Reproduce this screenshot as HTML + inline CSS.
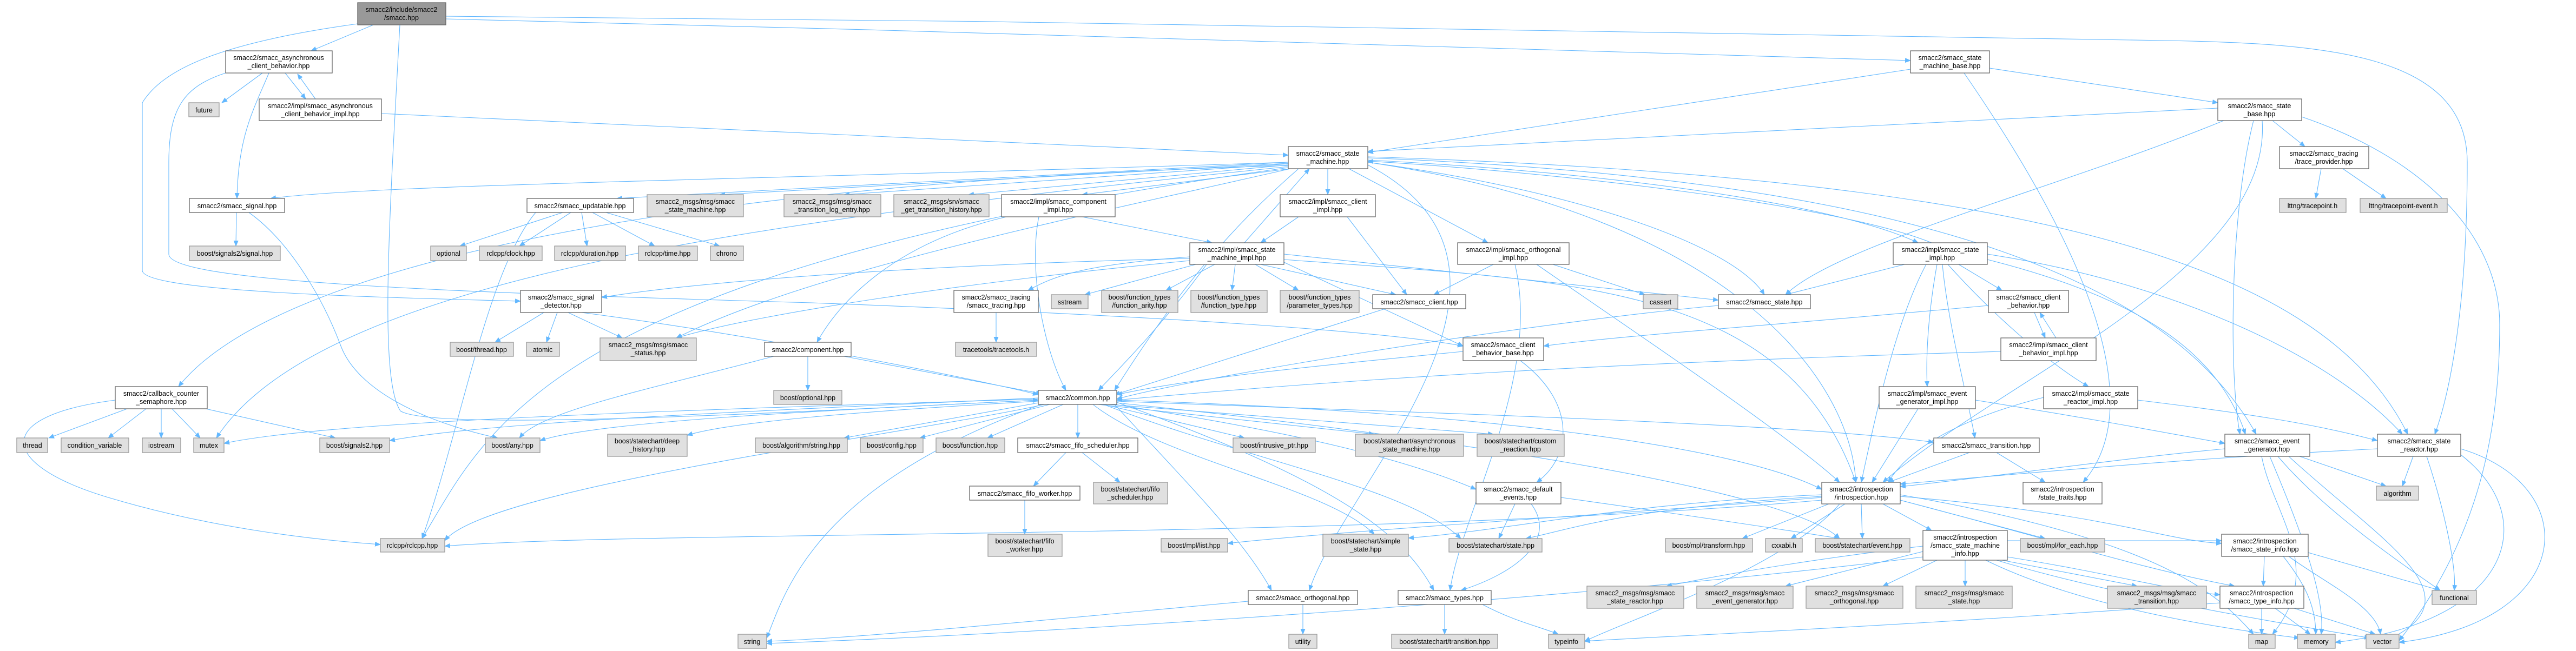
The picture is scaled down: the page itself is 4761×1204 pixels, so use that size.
<!DOCTYPE html>
<html><head><meta charset="utf-8"><style>
html,body{margin:0;padding:0;background:#fff;}
svg{display:block;}
text{font-family:"Liberation Sans",Arial,sans-serif;font-size:12.5px;fill:#000;text-anchor:middle;}
.w{fill:#fff;stroke:#666;stroke-width:1.3;}
.g{fill:#e0e0e0;stroke:#999;stroke-width:1.3;}
.r{fill:#999;stroke:#666;stroke-width:1.3;}
.e path{fill:none;stroke:#63b8ff;stroke-width:1.1;marker-end:url(#a);}
</style></head><body>
<svg width="4761" height="1204" viewBox="0 0 4761 1204" xmlns="http://www.w3.org/2000/svg">
<defs><marker id="a" markerUnits="userSpaceOnUse" markerWidth="11" markerHeight="9" refX="10" refY="4.5" orient="auto"><path d="M0,0 L11,4.5 L0,9 z" fill="#63b8ff"/></marker></defs>
<g class="e">
<path d="M690 46 L575 94"/>
<path d="M824 35 C1800 60 3000 90 3531 112"/>
<path d="M824 30 C2000 40 3600 60 4000 75 C4300 80 4560 100 4560 300 C4560 600 4520 750 4500 803"/>
<path d="M739 46 C720 400 700 700 740 760 C800 800 1500 760 1919 740"/>
<path d="M661 44 C400 80 300 130 263 190 L263 500 C263 540 700 550 962 557"/>
<path d="M485 135 L410 190"/>
<path d="M497 135 C470 200 440 250 438 367"/>
<path d="M527 135 L565 183"/>
<path d="M583 183 L550 137"/>
<path d="M417 135 C340 160 312 200 312 300 L312 470 C312 520 800 540 1500 560 C2300 590 2600 620 2704 640"/>
<path d="M705 210 L2381 287"/>
<path d="M2381 300 C1500 330 700 340 500 367"/>
<path d="M2381 300 L1140 367"/>
<path d="M2381 302 L1330 360"/>
<path d="M2381 303 L1560 360"/>
<path d="M2381 305 L1790 360"/>
<path d="M2385 312 L2000 360"/>
<path d="M2454 312 L2454 360"/>
<path d="M2493 312 L2750 449"/>
<path d="M2528 300 C2900 350 3200 450 3261 545"/>
<path d="M2381 306 C1200 340 500 500 330 715"/>
<path d="M2385 312 C2000 400 1500 500 1250 625"/>
<path d="M2381 310 C1000 500 900 800 780 996"/>
<path d="M2400 312 C2300 400 2200 500 2060 722"/>
<path d="M2381 308 C1500 400 600 500 400 810"/>
<path d="M2528 296 C3000 320 3400 380 3545 449"/>
<path d="M2528 300 C3200 400 3420 700 3430 892"/>
<path d="M2528 292 C3500 330 4000 500 4170 803"/>
<path d="M2528 290 C3800 330 4300 500 4450 803"/>
<path d="M2528 305 C2900 500 2480 900 2420 1092"/>
<path d="M2300 449 L2420 312"/>
<path d="M2199 475 C2000 490 1950 510 1900 537"/>
<path d="M2210 489 L2005 545"/>
<path d="M2245 489 L2155 537"/>
<path d="M2283 489 L2277 537"/>
<path d="M2320 489 L2400 537"/>
<path d="M2330 489 L2580 545"/>
<path d="M2230 489 C2150 600 2070 680 2030 722"/>
<path d="M2199 482 C1800 520 1400 580 1250 625"/>
<path d="M2199 478 C1700 490 1300 520 1112 550"/>
<path d="M2373 480 C2900 520 3300 520 3430 892"/>
<path d="M2373 470 L3176 555"/>
<path d="M2373 485 L2704 640"/>
<path d="M2000 401 L2240 449"/>
<path d="M1860 401 C1650 450 1550 560 1510 633"/>
<path d="M1920 401 C1900 500 1930 650 1970 722"/>
<path d="M2490 401 L2600 545"/>
<path d="M2400 401 L2330 449"/>
<path d="M2760 489 L2650 545"/>
<path d="M2870 489 L3040 545"/>
<path d="M2840 489 C3000 600 3300 800 3400 892"/>
<path d="M2800 489 C2850 700 2700 950 2680 1092"/>
<path d="M2560 571 L2060 730"/>
<path d="M3176 565 C2800 600 2200 700 2064 738"/>
<path d="M3531 128 L2528 282"/>
<path d="M3677 126 L4099 190"/>
<path d="M3630 135 C3950 600 3930 800 3850 892"/>
<path d="M4099 200 L2528 280"/>
<path d="M4200 223 L4260 271"/>
<path d="M4110 223 C3800 350 3400 450 3300 545"/>
<path d="M4165 223 C4120 400 4120 700 4140 803"/>
<path d="M4181 223 C4200 500 3700 700 3480 892"/>
<path d="M4254 216 C4500 300 4620 450 4620 600 C4620 800 4580 1000 4434 1185"/>
<path d="M4290 312 L4280 367"/>
<path d="M4330 312 L4410 367"/>
<path d="M1040 393 L850 455"/>
<path d="M1055 393 L960 455"/>
<path d="M1075 393 L1085 455"/>
<path d="M1095 393 L1210 455"/>
<path d="M1120 393 L1330 455"/>
<path d="M990 393 C900 500 850 800 780 996"/>
<path d="M437 393 L436 455"/>
<path d="M460 393 C540 450 600 560 630 640 C660 720 780 780 920 810"/>
<path d="M1005 578 L915 633"/>
<path d="M1030 578 L1010 633"/>
<path d="M1050 578 L1150 625"/>
<path d="M1075 578 C1400 620 1800 700 1919 730"/>
<path d="M235 756 L90 810"/>
<path d="M270 756 L200 810"/>
<path d="M298 756 L298 810"/>
<path d="M318 756 L370 810"/>
<path d="M380 756 L620 810"/>
<path d="M213 740 C-20 770 0 860 200 920 C400 980 600 1000 703 1007"/>
<path d="M1493 659 L1493 722"/>
<path d="M1430 659 C1200 720 1000 760 960 810"/>
<path d="M1560 659 L1925 728"/>
<path d="M1940 748 L1700 810"/>
<path d="M1965 748 L1825 810"/>
<path d="M1992 748 L1992 810"/>
<path d="M2040 748 L2300 810"/>
<path d="M1919 740 C1500 760 1100 780 998 815"/>
<path d="M1919 742 C1600 760 1350 780 1270 805"/>
<path d="M1919 745 L1560 810"/>
<path d="M1919 738 C1200 760 600 780 414 820"/>
<path d="M1919 736 C1400 760 900 780 720 815"/>
<path d="M1930 748 C1700 800 900 900 822 1000"/>
<path d="M1925 748 C1500 900 1450 1100 1417 1180"/>
<path d="M2030 748 L2540 803"/>
<path d="M2050 748 L2760 803"/>
<path d="M2064 742 C2500 760 3300 780 3574 818"/>
<path d="M2060 748 C2400 800 2600 850 2728 905"/>
<path d="M2064 745 C2600 800 3300 900 3400 996"/>
<path d="M2020 748 C2150 850 2450 900 2540 988"/>
<path d="M2040 748 C2300 850 2600 900 2700 996"/>
<path d="M2064 740 C2700 760 3200 820 3367 905"/>
<path d="M2060 748 C2200 900 2300 1000 2350 1092"/>
<path d="M2064 744 C2500 900 2600 1000 2650 1092"/>
<path d="M1970 837 L1910 899"/>
<path d="M2000 837 L2070 892"/>
<path d="M1894 925 L1894 988"/>
<path d="M2704 650 C2400 680 2200 700 2064 730"/>
<path d="M2810 667 C2920 750 2900 850 2840 892"/>
<path d="M2800 932 L2770 996"/>
<path d="M2830 932 C2880 1000 2800 1060 2700 1092"/>
<path d="M2885 920 C3100 950 3300 980 3400 996"/>
<path d="M2670 1118 L2670 1173"/>
<path d="M2740 1118 C2800 1150 2850 1160 2880 1173"/>
<path d="M2408 1118 L2408 1173"/>
<path d="M2307 1112 C2000 1140 1600 1180 1417 1186"/>
<path d="M3380 932 L3220 996"/>
<path d="M3410 932 L3310 996"/>
<path d="M3440 932 L3442 996"/>
<path d="M3480 932 L3570 981"/>
<path d="M3512 925 L3780 996"/>
<path d="M3367 920 C3000 950 2500 980 2269 1005"/>
<path d="M3367 915 C3000 930 2800 980 2603 995"/>
<path d="M3367 918 C3000 940 2900 980 2820 996"/>
<path d="M3367 925 C2500 1000 1200 980 822 1010"/>
<path d="M3512 918 C3900 950 4000 1000 4106 1005"/>
<path d="M3512 925 C3800 1000 3950 1050 4130 1084"/>
<path d="M3400 932 C3300 1050 3000 1150 2929 1186"/>
<path d="M3512 915 C4000 1000 4100 1100 4165 1173"/>
<path d="M3554 1020 L3300 1084"/>
<path d="M3580 1036 L3480 1084"/>
<path d="M3632 1036 L3632 1084"/>
<path d="M3700 1036 L3950 1084"/>
<path d="M3554 1010 C3300 1040 3150 1070 3080 1084"/>
<path d="M3670 1036 C3800 1100 4000 1150 4250 1180"/>
<path d="M3690 1036 C3900 1100 4200 1150 4380 1180"/>
<path d="M3554 1030 C3000 1100 2000 1170 1417 1190"/>
<path d="M3710 1000 L4106 1000"/>
<path d="M3710 1030 C3900 1060 4000 1090 4103 1100"/>
<path d="M4185 1029 L4183 1084"/>
<path d="M4266 1022 L4510 1092"/>
<path d="M4220 1029 C4260 1080 4280 1120 4280 1173"/>
<path d="M4230 1029 C4300 1080 4390 1120 4400 1173"/>
<path d="M4180 1125 L4180 1173"/>
<path d="M4205 1125 L4270 1173"/>
<path d="M4240 1125 L4390 1173"/>
<path d="M4103 1115 C3500 1160 3000 1180 2929 1186"/>
<path d="M4112 830 C3900 850 3700 880 3512 900"/>
<path d="M4250 844 L4410 899"/>
<path d="M4210 844 C4300 950 4450 1050 4510 1092"/>
<path d="M4195 844 C4240 950 4300 1100 4290 1173"/>
<path d="M4230 844 C4400 1000 4580 1100 4420 1180"/>
<path d="M4180 844 C4200 950 4300 1050 4200 1173"/>
<path d="M4460 844 L4440 899"/>
<path d="M4485 844 C4520 950 4540 1050 4536 1092"/>
<path d="M4548 830 C4780 900 4760 1150 4434 1188"/>
<path d="M4540 835 C4700 950 4650 1150 4316 1188"/>
<path d="M4394 830 C4000 850 3700 880 3512 895"/>
<path d="M3545 756 L3460 892"/>
<path d="M3651 740 C3900 780 4000 800 4112 820"/>
<path d="M3777 735 C3600 780 3520 840 3490 892"/>
<path d="M3951 740 C4200 770 4300 790 4394 815"/>
<path d="M3640 837 L3490 892"/>
<path d="M3690 837 L3780 892"/>
<path d="M3520 489 L3300 545"/>
<path d="M3620 489 L3700 537"/>
<path d="M3560 489 C3500 600 3460 800 3440 892"/>
<path d="M3673 480 C3950 550 4100 650 4150 803"/>
<path d="M3673 470 C4000 520 4300 650 4440 803"/>
<path d="M3580 489 C3560 600 3560 680 3562 715"/>
<path d="M3600 489 C3700 600 3800 680 3860 715"/>
<path d="M3590 489 C3600 600 3640 750 3650 810"/>
<path d="M3570 449 C3400 380 2900 320 2528 298"/>
<path d="M3675 565 C3300 600 3000 620 2853 640"/>
<path d="M3760 578 L3780 625"/>
<path d="M3800 625 L3770 578"/>
<path d="M3698 650 C3000 670 2500 700 2064 740"/>
<path d="M1841 578 L1841 633"/>
</g>
<g>
<rect class="r" x="661" y="5" width="163" height="41"/><text x="742" y="22">smacc2/include/smacc2</text><text x="742" y="37">/smacc.hpp</text>
<rect class="w" x="417" y="94" width="197" height="41"/><text x="515" y="111">smacc2/smacc_asynchronous</text><text x="515" y="126">_client_behavior.hpp</text>
<rect class="g" x="349" y="190" width="56" height="26"/><text x="377" y="208">future</text>
<rect class="w" x="479" y="183" width="226" height="40"/><text x="592" y="200">smacc2/impl/smacc_asynchronous</text><text x="592" y="215">_client_behavior_impl.hpp</text>
<rect class="w" x="350" y="367" width="176" height="26"/><text x="438" y="385">smacc2/smacc_signal.hpp</text>
<rect class="g" x="350" y="455" width="168" height="27"/><text x="434" y="473">boost/signals2/signal.hpp</text>
<rect class="g" x="796" y="455" width="66" height="27"/><text x="829" y="473">optional</text>
<rect class="w" x="974" y="367" width="197" height="26"/><text x="1072" y="385">smacc2/smacc_updatable.hpp</text>
<rect class="g" x="1196" y="360" width="178" height="41"/><text x="1285" y="377">smacc2_msgs/msg/smacc</text><text x="1285" y="392">_state_machine.hpp</text>
<rect class="g" x="1449" y="360" width="179" height="41"/><text x="1538" y="377">smacc2_msgs/msg/smacc</text><text x="1538" y="392">_transition_log_entry.hpp</text>
<rect class="g" x="886" y="455" width="116" height="27"/><text x="944" y="473">rclcpp/clock.hpp</text>
<rect class="g" x="1025" y="455" width="131" height="27"/><text x="1090" y="473">rclcpp/duration.hpp</text>
<rect class="g" x="1180" y="455" width="109" height="27"/><text x="1234" y="473">rclcpp/time.hpp</text>
<rect class="g" x="1313" y="455" width="61" height="27"/><text x="1343" y="473">chrono</text>
<rect class="w" x="962" y="537" width="150" height="41"/><text x="1037" y="554">smacc2/smacc_signal</text><text x="1037" y="569">_detector.hpp</text>
<rect class="g" x="1652" y="360" width="176" height="41"/><text x="1740" y="377">smacc2_msgs/srv/smacc</text><text x="1740" y="392">_get_transition_history.hpp</text>
<rect class="w" x="1851" y="360" width="210" height="41"/><text x="1956" y="377">smacc2/impl/smacc_component</text><text x="1956" y="392">_impl.hpp</text>
<rect class="w" x="2381" y="271" width="147" height="41"/><text x="2454" y="288">smacc2/smacc_state</text><text x="2454" y="303">_machine.hpp</text>
<rect class="w" x="2366" y="360" width="176" height="41"/><text x="2454" y="377">smacc2/impl/smacc_client</text><text x="2454" y="392">_impl.hpp</text>
<rect class="w" x="2199" y="449" width="174" height="40"/><text x="2286" y="466">smacc2/impl/smacc_state</text><text x="2286" y="481">_machine_impl.hpp</text>
<rect class="w" x="1763" y="537" width="156" height="41"/><text x="1841" y="554">smacc2/smacc_tracing</text><text x="1841" y="569">/smacc_tracing.hpp</text>
<rect class="g" x="1943" y="545" width="68" height="26"/><text x="1977" y="563">sstream</text>
<rect class="g" x="2036" y="537" width="141" height="41"/><text x="2106" y="554">boost/function_types</text><text x="2106" y="569">/function_arity.hpp</text>
<rect class="g" x="2201" y="537" width="141" height="41"/><text x="2271" y="554">boost/function_types</text><text x="2271" y="569">/function_type.hpp</text>
<rect class="g" x="2366" y="537" width="146" height="41"/><text x="2439" y="554">boost/function_types</text><text x="2439" y="569">/parameter_types.hpp</text>
<rect class="w" x="2537" y="545" width="172" height="26"/><text x="2623" y="563">smacc2/smacc_client.hpp</text>
<rect class="w" x="2694" y="449" width="206" height="40"/><text x="2797" y="466">smacc2/impl/smacc_orthogonal</text><text x="2797" y="481">_impl.hpp</text>
<rect class="g" x="3037" y="545" width="64" height="26"/><text x="3069" y="563">cassert</text>
<rect class="w" x="3176" y="545" width="170" height="26"/><text x="3261" y="563">smacc2/smacc_state.hpp</text>
<rect class="w" x="3531" y="94" width="146" height="41"/><text x="3604" y="111">smacc2/smacc_state</text><text x="3604" y="126">_machine_base.hpp</text>
<rect class="w" x="3499" y="449" width="174" height="40"/><text x="3586" y="466">smacc2/impl/smacc_state</text><text x="3586" y="481">_impl.hpp</text>
<rect class="w" x="3675" y="537" width="148" height="41"/><text x="3749" y="554">smacc2/smacc_client</text><text x="3749" y="569">_behavior.hpp</text>
<rect class="w" x="4099" y="183" width="155" height="40"/><text x="4176" y="200">smacc2/smacc_state</text><text x="4176" y="215">_base.hpp</text>
<rect class="w" x="4213" y="271" width="165" height="41"/><text x="4295" y="288">smacc2/smacc_tracing</text><text x="4295" y="303">/trace_provider.hpp</text>
<rect class="g" x="4213" y="367" width="123" height="26"/><text x="4274" y="385">lttng/tracepoint.h</text>
<rect class="g" x="4362" y="367" width="161" height="26"/><text x="4442" y="385">lttng/tracepoint-event.h</text>
<rect class="w" x="213" y="715" width="170" height="41"/><text x="298" y="732">smacc2/callback_counter</text><text x="298" y="747">_semaphore.hpp</text>
<rect class="g" x="31" y="810" width="57" height="27"/><text x="60" y="828">thread</text>
<rect class="g" x="113" y="810" width="125" height="27"/><text x="175" y="828">condition_variable</text>
<rect class="g" x="263" y="810" width="71" height="27"/><text x="298" y="828">iostream</text>
<rect class="g" x="358" y="810" width="56" height="27"/><text x="386" y="828">mutex</text>
<rect class="g" x="591" y="810" width="129" height="27"/><text x="655" y="828">boost/signals2.hpp</text>
<rect class="g" x="703" y="996" width="119" height="25"/><text x="762" y="1013">rclcpp/rclcpp.hpp</text>
<rect class="g" x="832" y="633" width="117" height="26"/><text x="890" y="651">boost/thread.hpp</text>
<rect class="g" x="973" y="633" width="61" height="26"/><text x="1003" y="651">atomic</text>
<rect class="g" x="1109" y="625" width="178" height="42"/><text x="1198" y="642">smacc2_msgs/msg/smacc</text><text x="1198" y="657">_status.hpp</text>
<rect class="w" x="1413" y="633" width="160" height="26"/><text x="1493" y="651">smacc2/component.hpp</text>
<rect class="g" x="1430" y="722" width="126" height="26"/><text x="1493" y="740">boost/optional.hpp</text>
<rect class="g" x="897" y="810" width="101" height="27"/><text x="947" y="828">boost/any.hpp</text>
<rect class="g" x="1123" y="803" width="147" height="41"/><text x="1196" y="820">boost/statechart/deep</text><text x="1196" y="835">_history.hpp</text>
<rect class="g" x="1396" y="810" width="170" height="27"/><text x="1481" y="828">boost/algorithm/string.hpp</text>
<rect class="g" x="1364" y="1173" width="53" height="26"/><text x="1390" y="1191">string</text>
<rect class="g" x="1766" y="633" width="150" height="26"/><text x="1841" y="651">tracetools/tracetools.h</text>
<rect class="w" x="1919" y="722" width="145" height="26"/><text x="1992" y="740">smacc2/common.hpp</text>
<rect class="g" x="1590" y="810" width="116" height="27"/><text x="1648" y="828">boost/config.hpp</text>
<rect class="g" x="1730" y="810" width="127" height="27"/><text x="1793" y="828">boost/function.hpp</text>
<rect class="w" x="1881" y="810" width="222" height="27"/><text x="1992" y="828">smacc2/smacc_fifo_scheduler.hpp</text>
<rect class="g" x="2279" y="810" width="152" height="27"/><text x="2355" y="828">boost/intrusive_ptr.hpp</text>
<rect class="w" x="1792" y="899" width="204" height="26"/><text x="1894" y="917">smacc2/smacc_fifo_worker.hpp</text>
<rect class="g" x="2021" y="892" width="137" height="40"/><text x="2089" y="909">boost/statechart/fifo</text><text x="2089" y="924">_scheduler.hpp</text>
<rect class="g" x="1826" y="988" width="137" height="41"/><text x="1894" y="1005">boost/statechart/fifo</text><text x="1894" y="1020">_worker.hpp</text>
<rect class="g" x="2146" y="996" width="123" height="25"/><text x="2207" y="1013">boost/mpl/list.hpp</text>
<rect class="w" x="2307" y="1092" width="202" height="26"/><text x="2408" y="1110">smacc2/smacc_orthogonal.hpp</text>
<rect class="g" x="2382" y="1173" width="52" height="26"/><text x="2408" y="1191">utility</text>
<rect class="w" x="2704" y="625" width="149" height="42"/><text x="2778" y="642">smacc2/smacc_client</text><text x="2778" y="657">_behavior_base.hpp</text>
<rect class="g" x="2505" y="803" width="200" height="41"/><text x="2605" y="820">boost/statechart/asynchronous</text><text x="2605" y="835">_state_machine.hpp</text>
<rect class="g" x="2730" y="803" width="161" height="41"/><text x="2810" y="820">boost/statechart/custom</text><text x="2810" y="835">_reaction.hpp</text>
<rect class="w" x="2728" y="892" width="157" height="40"/><text x="2806" y="909">smacc2/smacc_default</text><text x="2806" y="924">_events.hpp</text>
<rect class="g" x="2445" y="988" width="158" height="41"/><text x="2524" y="1005">boost/statechart/simple</text><text x="2524" y="1020">_state.hpp</text>
<rect class="g" x="2678" y="996" width="172" height="25"/><text x="2764" y="1013">boost/statechart/state.hpp</text>
<rect class="g" x="3078" y="996" width="161" height="25"/><text x="3158" y="1013">boost/mpl/transform.hpp</text>
<rect class="w" x="2584" y="1092" width="172" height="26"/><text x="2670" y="1110">smacc2/smacc_types.hpp</text>
<rect class="g" x="2933" y="1084" width="179" height="41"/><text x="3022" y="1101">smacc2_msgs/msg/smacc</text><text x="3022" y="1116">_state_reactor.hpp</text>
<rect class="g" x="3136" y="1084" width="178" height="41"/><text x="3225" y="1101">smacc2_msgs/msg/smacc</text><text x="3225" y="1116">_event_generator.hpp</text>
<rect class="g" x="2572" y="1173" width="196" height="26"/><text x="2670" y="1191">boost/statechart/transition.hpp</text>
<rect class="g" x="2862" y="1173" width="67" height="26"/><text x="2895" y="1191">typeinfo</text>
<rect class="w" x="3698" y="625" width="176" height="42"/><text x="3786" y="642">smacc2/impl/smacc_client</text><text x="3786" y="657">_behavior_impl.hpp</text>
<rect class="w" x="3473" y="715" width="178" height="41"/><text x="3562" y="732">smacc2/impl/smacc_event</text><text x="3562" y="747">_generator_impl.hpp</text>
<rect class="w" x="3777" y="715" width="174" height="41"/><text x="3864" y="732">smacc2/impl/smacc_state</text><text x="3864" y="747">_reactor_impl.hpp</text>
<rect class="w" x="3574" y="810" width="195" height="27"/><text x="3671" y="828">smacc2/smacc_transition.hpp</text>
<rect class="w" x="3367" y="892" width="145" height="40"/><text x="3440" y="909">smacc2/introspection</text><text x="3440" y="924">/introspection.hpp</text>
<rect class="w" x="3739" y="892" width="146" height="40"/><text x="3812" y="909">smacc2/introspection</text><text x="3812" y="924">/state_traits.hpp</text>
<rect class="g" x="3263" y="996" width="68" height="25"/><text x="3297" y="1013">cxxabi.h</text>
<rect class="g" x="3355" y="996" width="175" height="25"/><text x="3442" y="1013">boost/statechart/event.hpp</text>
<rect class="w" x="3554" y="981" width="156" height="55"/><text x="3632" y="998">smacc2/introspection</text><text x="3632" y="1013">/smacc_state_machine</text><text x="3632" y="1028">_info.hpp</text>
<rect class="g" x="3734" y="996" width="156" height="25"/><text x="3812" y="1013">boost/mpl/for_each.hpp</text>
<rect class="g" x="3338" y="1084" width="179" height="41"/><text x="3427" y="1101">smacc2_msgs/msg/smacc</text><text x="3427" y="1116">_orthogonal.hpp</text>
<rect class="g" x="3541" y="1084" width="178" height="41"/><text x="3630" y="1101">smacc2_msgs/msg/smacc</text><text x="3630" y="1116">_state.hpp</text>
<rect class="g" x="3895" y="1084" width="183" height="41"/><text x="3986" y="1101">smacc2_msgs/msg/smacc</text><text x="3986" y="1116">_transition.hpp</text>
<rect class="w" x="4112" y="803" width="157" height="41"/><text x="4190" y="820">smacc2/smacc_event</text><text x="4190" y="835">_generator.hpp</text>
<rect class="w" x="4394" y="803" width="154" height="41"/><text x="4471" y="820">smacc2/smacc_state</text><text x="4471" y="835">_reactor.hpp</text>
<rect class="g" x="4392" y="899" width="78" height="26"/><text x="4431" y="917">algorithm</text>
<rect class="w" x="4106" y="988" width="160" height="41"/><text x="4186" y="1005">smacc2/introspection</text><text x="4186" y="1020">/smacc_state_info.hpp</text>
<rect class="g" x="4495" y="1092" width="82" height="26"/><text x="4536" y="1110">functional</text>
<rect class="w" x="4103" y="1084" width="155" height="41"/><text x="4180" y="1101">smacc2/introspection</text><text x="4180" y="1116">/smacc_type_info.hpp</text>
<rect class="g" x="4156" y="1173" width="49" height="26"/><text x="4180" y="1191">map</text>
<rect class="g" x="4246" y="1173" width="70" height="26"/><text x="4281" y="1191">memory</text>
<rect class="g" x="4373" y="1173" width="61" height="26"/><text x="4403" y="1191">vector</text>
</g>
</svg>
</body></html>
